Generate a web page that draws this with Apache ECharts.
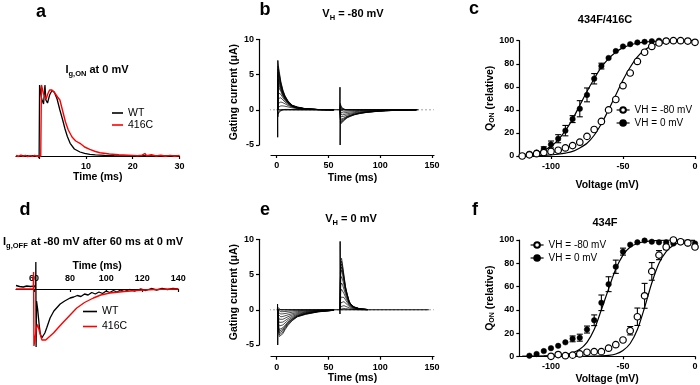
<!DOCTYPE html>
<html><head><meta charset="utf-8">
<script src="https://cdn.jsdelivr.net/npm/echarts@6/dist/echarts.min.js"></script>
<style>html,body{margin:0;padding:0;background:#fff}#c{width:700px;height:385px}</style>
</head><body><div id="c"></div><script>
const FF = 'Liberation Sans, Arial, sans-serif';
// ---------- Panel a : Ig,ON at 0 mV ----------
const aWtT = [-5,-4.4,-3.8,-3.2,-2.6,-2,-1.4,-0.8,-0.3,-0.05,0.05,0.5,0.9,1.2,1.4,1.75,2.2,2.7,3.2,3.8,4.4,5.0,5.5,6.0,6.6,7.5,8.7,9.7,10.8,12,14,16,19,22,25,28,30];
const aWtV = [0.4,-0.3,0.5,-0.2,0.3,-0.4,0.4,-0.2,0.2,-2,71,57,52,71,56,53,61,65.5,64,57,46,36,27,19.5,12.7,7,4,2.6,1.7,1.2,0.7,0.4,0.2,0.3,0,0.2,0];
const aMutT = [-5,-4.5,-4,-3.5,-3,-2.5,-2,-1.5,-1,-0.5,0.3,0.45,0.9,1.45,1.8,2.2,2.7,3.3,3.9,4.4,5.0,5.6,6.2,7.0,7.8,8.7,9.7,10.8,12,13,15,17,20,21,22,22.6,23,24,25,26,27,28,29,30];
const aMutV = [0.5,-0.5,0.8,-0.3,0.6,-0.6,0.4,-0.4,0.6,-0.3,0,71,62,57,62,66,66,63,59,56,45,34,26,19,15,12.7,9,6.7,4.5,3.3,2,1.2,0.6,0.3,0.8,2.5,0.2,1.2,0,0.8,-0.2,0.6,-0.3,0.5];
const aTicks = [0,10,20,30];
const aLabels = [10,20,30];
// ---------- Panel d : Ig,OFF ----------
const dWtT = [50,51,52,53,54,55,56,57,58,59,60.5,60.9,61.0,61.15,61.4,62,62.8,63.5,64.3,65,66,67,68.9,71,74.5,77,80,82,84,86,88,90,92,94,96,98,100,102,104,106,108,110,113,116,119,122,125,128,131,134,137,140];
const dWtV = [3.5,5,2.5,4.5,2,4,3,5,2.5,4,3,0,27,-58,-12,-20,-35,-45,-49,-48,-44,-39,-29,-22,-15,-12,-9,-8,-6.5,-7.5,-5,-6,-3.5,-5,-3,-4.5,-2,-3.5,-1.5,-3,-1,-2.5,-0.5,-2,0,-1.5,0.5,-1,0.5,-0.5,0.5,0];
const dMutT = [50,59.6,59.75,59.95,60.4,61.2,62.0,62.6,63.4,64.4,65.2,66.5,68,70.8,73.5,76.3,80,83.7,88,92.9,97,102,110,120.6,130,140];
const dMutV = [0,0,17,-57,-52,-40,-35.5,-37,-45,-51,-52,-51,-48.5,-44,-38.5,-33,-26,-19,-13.5,-9,-6,-4,-2.5,-1,-0.4,0];
const dTicks = [60,80,100,120,140];
// ---------- Panel b : VH = -80 mV ----------
const bOnT = [1.0,1.25,1.5,2.5,4,6,8,11,15,20,28,40,55];
const bOn = [
 [0,6.6,6.6,5.4,4.0,2.8,2.0,1.25,0.65,0.4,0.15,0.04,0],
 [0,6.2,6.25,5.15,3.85,2.7,1.95,1.2,0.62,0.37,0.14,0.04,0],
 [0,5.8,5.9,4.9,3.7,2.6,1.9,1.15,0.6,0.35,0.13,0.03,0],
 [0,5.3,5.5,4.65,3.55,2.5,1.82,1.12,0.59,0.33,0.12,0.03,0],
 [0,4.9,5.1,4.4,3.4,2.4,1.75,1.1,0.58,0.32,0.12,0.03,0],
 [0,4.4,4.65,4.1,3.2,2.3,1.68,1.05,0.56,0.31,0.11,0.03,0],
 [0,3.9,4.2,3.8,3.0,2.2,1.6,1.0,0.55,0.3,0.11,0.03,0],
 [0,3.3,3.75,3.45,2.8,2.07,1.52,0.96,0.52,0.29,0.1,0.03,0],
 [0,2.8,3.3,3.1,2.6,1.95,1.45,0.92,0.5,0.28,0.1,0.03,0],
 [0,1.9,2.4,2.5,2.2,1.7,1.3,0.85,0.47,0.26,0.1,0.03,0],
 [0,1.1,1.6,1.8,1.7,1.4,1.1,0.75,0.43,0.24,0.09,0.03,0],
 [0,0.5,0.9,1.1,1.1,1.0,0.85,0.6,0.37,0.21,0.08,0.02,0],
 [0,0.1,0.35,0.5,0.55,0.55,0.5,0.4,0.27,0.16,0.06,0.02,0],
 [0,-1.0,-0.6,-0.3,-0.1,0,0.05,0.05,0.03,0.02,0.01,0,0],
 [0,-0.6,-0.35,-0.15,-0.05,0,0,0,0,0,0,0,0]
];
const bOffT = [61.2,61.5,62,63,64.5,66,68,71,75,80,87,95,105,118,135];
const bOff = [
 [0,-1.6,-2.0,-1.9,-1.6,-1.35,-1.15,-0.95,-0.72,-0.55,-0.38,-0.26,-0.15,-0.07,0],
 [0,-1.45,-1.85,-1.78,-1.52,-1.3,-1.1,-0.92,-0.7,-0.52,-0.36,-0.25,-0.14,-0.06,0],
 [0,-1.3,-1.7,-1.65,-1.45,-1.25,-1.05,-0.88,-0.67,-0.5,-0.35,-0.24,-0.14,-0.06,0],
 [0,-1.15,-1.52,-1.5,-1.32,-1.15,-0.98,-0.82,-0.63,-0.47,-0.33,-0.23,-0.13,-0.06,0],
 [0,-1.0,-1.35,-1.35,-1.2,-1.05,-0.92,-0.77,-0.6,-0.45,-0.32,-0.22,-0.13,-0.06,0],
 [0,-0.7,-1.0,-1.05,-0.95,-0.85,-0.75,-0.64,-0.5,-0.38,-0.27,-0.19,-0.11,-0.05,0],
 [0,-0.4,-0.65,-0.75,-0.7,-0.64,-0.57,-0.5,-0.4,-0.3,-0.22,-0.15,-0.09,-0.04,0],
 [0,-0.15,-0.35,-0.45,-0.45,-0.42,-0.38,-0.33,-0.27,-0.21,-0.15,-0.1,-0.06,-0.03,0],
 [0,0.1,-0.05,-0.15,-0.2,-0.2,-0.19,-0.17,-0.14,-0.11,-0.08,-0.05,-0.03,-0.01,0],
 [0,0.4,0.25,0.1,0.02,0,0,0,0,0,0,0,0,0,0],
 [0,0.7,0.45,0.2,0.08,0.03,0,0,0,0,0,0,0,0,0],
 [0,0.9,0.6,0.3,0.1,0.04,0,0,0,0,0,0,0,0,0]
];
const bSpikeOnT = [0.8,0.95,1.1,1.25], bSpikeOnV = [0,-3.9,7.0,6.6];
const bSpikeOffT = [61.0,61.15,61.3,61.5], bSpikeOffV = [0,3.2,-5.0,-1.6];
const bBaseT = [0,137], bGreyT = [-19,152];
// ---------- Panel e : VH = 0 mV ----------
const eOnT = [1.0,1.25,1.75,2.5,4,6,8,11,15,20,28,40,55];
const eOn = [
 [0,-1.5,-3.0,-3.8,-3.9,-3.4,-2.85,-2.2,-1.55,-1.0,-0.65,-0.3,-0.08],
 [0,-1.4,-2.8,-3.55,-3.65,-3.18,-2.68,-2.08,-1.48,-0.97,-0.62,-0.29,-0.08],
 [0,-1.3,-2.6,-3.3,-3.4,-2.95,-2.5,-1.95,-1.4,-0.93,-0.58,-0.27,-0.08],
 [0,-1.2,-2.4,-3.05,-3.15,-2.75,-2.35,-1.83,-1.32,-0.89,-0.55,-0.25,-0.07],
 [0,-1.1,-2.2,-2.8,-2.9,-2.55,-2.2,-1.72,-1.25,-0.85,-0.52,-0.24,-0.07],
 [0,-0.9,-1.8,-2.3,-2.4,-2.15,-1.88,-1.5,-1.1,-0.76,-0.46,-0.21,-0.07],
 [0,-0.7,-1.4,-1.8,-1.9,-1.75,-1.55,-1.25,-0.93,-0.66,-0.4,-0.19,-0.06],
 [0,-0.5,-1.0,-1.35,-1.45,-1.35,-1.2,-0.98,-0.74,-0.54,-0.33,-0.16,-0.05],
 [0,-0.35,-0.7,-0.95,-1.0,-0.95,-0.86,-0.72,-0.55,-0.4,-0.25,-0.12,-0.04],
 [0,-0.2,-0.4,-0.55,-0.6,-0.58,-0.53,-0.45,-0.35,-0.26,-0.16,-0.08,-0.03],
 [0,-0.1,-0.2,-0.25,-0.28,-0.27,-0.25,-0.21,-0.16,-0.12,-0.08,-0.04,-0.01],
 [0,0.3,0.1,0.03,0,0,0,0,0,0,0,0,0]
];
const eOffT = [61.3,61.5,62,62.7,63.7,65,66.5,68,70,72,75,80,88];
const eOff = [
 [0,5.0,7.0,7.3,6.3,4.9,3.3,2.3,1.2,0.7,0.4,0.15,0.03],
 [0,4.7,6.6,6.9,6.0,4.7,3.2,2.25,1.18,0.69,0.39,0.14,0.03],
 [0,4.4,6.2,6.5,5.7,4.5,3.1,2.2,1.15,0.68,0.38,0.14,0.03],
 [0,4.05,5.75,6.05,5.35,4.25,2.98,2.12,1.12,0.66,0.37,0.13,0.03],
 [0,3.7,5.3,5.6,5.0,4.0,2.85,2.05,1.1,0.65,0.36,0.13,0.03],
 [0,3.0,4.4,4.7,4.25,3.5,2.55,1.85,1.0,0.6,0.34,0.12,0.03],
 [0,2.3,3.5,3.8,3.5,2.9,2.2,1.6,0.9,0.55,0.3,0.11,0.02],
 [0,1.6,2.6,2.9,2.75,2.3,1.8,1.35,0.78,0.48,0.27,0.1,0.02],
 [0,1.0,1.8,2.05,2.0,1.75,1.4,1.07,0.65,0.4,0.23,0.08,0.02],
 [0,0.5,1.0,1.25,1.25,1.15,0.95,0.75,0.48,0.3,0.17,0.06,0.01],
 [0,0.2,0.45,0.6,0.62,0.58,0.5,0.4,0.27,0.17,0.1,0.04,0.01],
 [0,0.05,0.12,0.18,0.2,0.2,0.17,0.14,0.1,0.06,0.04,0.01,0]
];
const eSpikeOnT = [0.7,0.85,1.0,1.15], eSpikeOnV = [0,0.8,-5.0,-1.5];
const eSpikeOffT = [61.0,61.15,61.3,61.5], eSpikeOffV = [0,-0.6,9.7,5.0];
const eBaseT = [0,147], eGreyT = [-19,152];
const gateTicks = [0,50,100,150];
// ---------- Panel c : 434F/416C ----------
const cVolt = [-120,-115,-110,-105,-100,-95,-90,-85,-80,-75,-70,-65,-60,-55,-50,-45,-40,-35,-30,-25,-20,-15,-10,-5,0];
const cOpen = [0,1,2,3,4,5,7,9,12,17,23,30,40,49,61,72,82,90,95,98,99.7,100,100,99.7,98.6];
const cFillVolt = [-120,-115,-110,-105,-100,-95,-90,-85,-80,-75,-70,-65,-60,-55,-50,-45,-40,-35,-30,-25,-20];
const cFill = [0,2,3,6,10,15,22,32,41,53,67,78,85,91,95,97,98.5,99,99.5,100,100];
const cFillErrVolt = [-105,-100,-95,-90,-85,-80,-75,-70,-65];
const cFillErr = [2,3,3.5,4.5,3,7,6,4.5,2.5];
const cFitFill = [1,1.8,3,5,8.5,14,22,32,44,56,67,77,84.5,90,94,96.3,97.8,98.7,99.3,99.6,99.8,99.9,100,100,100];
const cFitOpen = [0.1,0.2,0.3,0.5,0.9,1.5,2.5,4,7,11,18,28,40,53,66,77,86,92,95.5,97.5,98.6,99.2,99.6,99.8,99.9];
// ---------- Panel f : 434F ----------
const fOpenVolt = [-100,-95,-90,-85,-80,-75,-70,-65,-60,-55,-50,-45,-40,-35,-30,-25,-20,-15,-10,-5,0];
const fOpen = [0,1.5,0.5,1,2,3.5,4,4,7,10,14,22,34,52,73,87,94,100,98.5,97.5,94];
const fFillVolt = [-115,-110,-105,-100,-95,-90,-85,-80,-75,-70,-65,-60,-55,-50,-45,-40,-35,-30,-25,-20,-15,-10,-5,0];
const fFill = [0.5,2,4.5,7,9,12,15,16,23,31,46,62,77,90,96,98,99.5,98.5,98,98,97,98,97,97];
const fFillErrVolt = [-85,-80,-75,-70,-65,-60,-55,-50];
const fFillErr = [2.5,3,3,4.6,6.7,6.4,5.7,3];
const fOpenErrVolt = [-45,-40,-35,-30,-25,-20,-10];
const fOpenErr = [3.6,7.5,10.7,7.6,3.9,2.3,1.5];
const fFitFill = [0,0.1,0.2,0.3,0.5,0.9,1.6,3,6,12,23,40,58,75,87,94,97,98.6,99.3,99.7,99.9,100,100,100,100];
const fFitOpen = [0,0,0,0,0,0,0,0,0,0,0.1,0.3,0.8,2,5,11,23,42,63,80,90,95.5,98,99,99.5];
const vTicks = [-100,-50,0];

// ---------- build ----------
const pairs = (t, v) => t.map((x, i) => [x, v[i]]);
const errRows = (vs, means, meanV, errs) => vs.map((v, i) => { const m = means[meanV.indexOf(v)]; return [v, m - errs[i], m + errs[i]]; });

const LS = { color: '#000', width: 1.2 };
const labelStyle = (m, extra) => Object.assign({ color: '#000', fontSize: 9, fontWeight: 'bold', fontFamily: FF, margin: m }, extra || {});
const nameStyle = { color: '#000', fontSize: 10.5, fontWeight: 'bold', fontFamily: FF };
const richName = {
  q: { fontSize: 10.5, fontWeight: 'bold', fontFamily: FF, color: '#000' },
  s: { fontSize: 7, fontWeight: 'bold', fontFamily: FF, color: '#000', padding: [4, 0, 0, 0] }
};
const xAx = (gi, min, max, ticks, labels, name, gap, extra) => Object.assign({
  gridIndex: gi, type: 'value', min, max, position: 'bottom',
  axisLine: { onZero: false, lineStyle: LS },
  axisTick: { length: 3, customValues: ticks, lineStyle: LS },
  axisLabel: labelStyle(6, { customValues: labels }),
  splitLine: { show: false }, name, nameLocation: 'middle', nameGap: gap, nameTextStyle: nameStyle
}, extra || {});
const yAx = (gi, min, max, interval, name, gap, extra) => Object.assign({
  gridIndex: gi, type: 'value', min, max, interval,
  axisLine: { onZero: false, lineStyle: LS },
  axisTick: { length: 3, lineStyle: LS },
  axisLabel: labelStyle(5),
  splitLine: { show: false }, name, nameLocation: 'middle', nameGap: gap, nameTextStyle: nameStyle
}, extra || {});

const grids = [
  { left: 16, top: 85, width: 163.4, height: 71 },
  { left: 271, top: 39.3, width: 163, height: 105.7 },
  { left: 519.3, top: 40.7, width: 175.7, height: 115.3 },
  { left: 16, top: 289, width: 162.3, height: 60 },
  { left: 271, top: 239.3, width: 163, height: 105.7 },
  { left: 519.3, top: 240, width: 175.7, height: 116.3 }
].map(g => Object.assign({ containLabel: false, outerBoundsMode: 'none' }, g));

const xAxes = [
  xAx(0, -5, 30, aTicks, aLabels, 'Time (ms)', 14),
  xAx(1, -5.5, 152, gateTicks, gateTicks, 'Time (ms)', 18, { offset: 10 }),
  xAx(2, -122, 0, vTicks, vTicks, 'Voltage (mV)', 24),
  xAx(3, 50, 140, dTicks, dTicks, 'Time (ms)', 17, { position: 'top',
      axisTick: { length: 3, inside: true, customValues: dTicks, lineStyle: LS } }),
  xAx(4, -5.5, 152, gateTicks, gateTicks, 'Time (ms)', 16, { offset: 11.7 }),
  xAx(5, -122, 0, vTicks, vTicks, 'Voltage (mV)', 17)
];
const yAxes = [
  { gridIndex: 0, type: 'value', min: 0, max: 71, show: false },
  yAx(1, -5, 10, 5, 'Gating current (μA)', 14, { offset: 12 }),
  yAx(2, 0, 100, 20, '{q|Q}{s|ON}{q| (relative)}', 21, { nameTextStyle: Object.assign({ rich: richName }, nameStyle) }),
  { gridIndex: 3, type: 'value', min: -60, max: 0, show: false },
  yAx(4, -5, 10, 5, 'Gating current (μA)', 14, { offset: 12 }),
  yAx(5, 0, 100, 20, '{q|Q}{s|ON}{q| (relative)}', 21, { nameTextStyle: Object.assign({ rich: richName }, nameStyle) })
];

const series = [];
const lineS = (gi, name, data, color, width, extra) => Object.assign({
  type: 'line', name, xAxisIndex: gi, yAxisIndex: gi, data, symbol: 'none', silent: true,
  lineStyle: { color, width }, itemStyle: { color }, animation: false, z: 3
}, extra || {});

// a
series.push(lineS(0, 'WT', pairs(aWtT, aWtV), '#000', 1.3, { clip: false }));
series.push(lineS(0, '416C', pairs(aMutT, aMutV), '#ff0000', 1.4, { clip: false }));
// d
series.push(lineS(3, 'WT', pairs(dWtT, dWtV), '#000', 1.3, { clip: false }));
series.push(lineS(3, '416C', pairs(dMutT, dMutV), '#ff0000', 1.4, { clip: false }));
// b & e families
function family(gi, greyT, baseT, onT, on, offT, off, spikes) {
  series.push(lineS(gi, 'grey', pairs(greyT, greyT.map(() => 0)), '#b0b0b0', 1.2, { clip: false, z: 1, lineStyle: { color: '#b0b0b0', width: 1.2, type: [2, 2] } }));
  series.push(lineS(gi, 'base', pairs(baseT, baseT.map(() => 0)), '#000', 1, { z: 2 }));
  on.forEach(tr => series.push(lineS(gi, 'tr', pairs(onT, tr), '#000', 0.7)));
  off.forEach(tr => series.push(lineS(gi, 'tr', pairs(offT, tr), '#000', 0.7)));
  spikes.forEach(s => series.push(lineS(gi, 'sp', pairs(s[0], s[1]), '#000', 1)));
}
family(1, bGreyT, bBaseT, bOnT, bOn, bOffT, bOff, [[bSpikeOnT, bSpikeOnV], [bSpikeOffT, bSpikeOffV]]);
family(4, eGreyT, eBaseT, eOnT, eOn, eOffT, eOff, [[eSpikeOnT, eSpikeOnV], [eSpikeOffT, eSpikeOffV]]);

// c & f
const errSeries = (gi, rows) => ({
  type: 'custom', xAxisIndex: gi, yAxisIndex: gi, data: rows, silent: true, animation: false, z: 3,
  renderItem: (params, api) => {
    const x = api.value(0), lo = api.value(1), hi = api.value(2);
    const p1 = api.coord([x, lo]), p2 = api.coord([x, hi]);
    const st = { stroke: '#000', lineWidth: 1.1 };
    return { type: 'group', children: [
      { type: 'line', shape: { x1: p1[0], y1: p1[1], x2: p2[0], y2: p2[1] }, style: st },
      { type: 'line', shape: { x1: p1[0] - 3, y1: p1[1], x2: p1[0] + 3, y2: p1[1] }, style: st },
      { type: 'line', shape: { x1: p2[0] - 3, y1: p2[1], x2: p2[0] + 3, y2: p2[1] }, style: st }
    ] };
  }
});
const ptS = (gi, name, data, open) => ({
  type: 'line', name, xAxisIndex: gi, yAxisIndex: gi, data, symbol: 'circle', symbolSize: open ? 6.5 : 5.5,
  showSymbol: true, showAllSymbol: true, silent: true, animation: false, z: 5,
  lineStyle: { width: 1, color: '#000', opacity: 0 },
  itemStyle: open ? { color: '#fff', borderColor: '#000', borderWidth: 1.2 } : { color: '#000', borderColor: '#000', borderWidth: 0.5 }
});
// c
series.push(lineS(2, 'fitO', pairs(cVolt, cFitOpen), '#000', 1.2, { smooth: 0.3, z: 2 }));
series.push(lineS(2, 'fitF', pairs(cVolt, cFitFill), '#000', 1.2, { smooth: 0.3, z: 2 }));
series.push(errSeries(2, errRows(cFillErrVolt, cFill, cFillVolt, cFillErr)));
series.push(ptS(2, 'VH = 0 mV', pairs(cFillVolt, cFill), false));
series.push(ptS(2, 'VH = -80 mV', pairs(cVolt, cOpen), true));
// f
series.push(lineS(5, 'fitO', pairs(cVolt, fFitOpen), '#000', 1.2, { smooth: 0.3, z: 2 }));
series.push(lineS(5, 'fitF', pairs(cVolt, fFitFill), '#000', 1.2, { smooth: 0.3, z: 2 }));
series.push(errSeries(5, errRows(fFillErrVolt, fFill, fFillVolt, fFillErr)));
series.push(errSeries(5, errRows(fOpenErrVolt, fOpen, fOpenVolt, fOpenErr)));
series.push(ptS(5, 'VH = 0 mV', pairs(fFillVolt, fFill), false));
series.push(ptS(5, 'VH = -80 mV', pairs(fOpenVolt, fOpen), true));

const legText = { fontSize: 10.5, fontFamily: FF, color: '#000', lineHeight: 12 };
const legends = [
  { left: 112, top: 107, orient: 'vertical', data: ['WT', '416C'], icon: 'rect', itemWidth: 11, itemHeight: 1.6, itemGap: 0,
    textStyle: legText, selectedMode: false, padding: 0 },
  { left: 83, top: 305.5, orient: 'vertical', data: ['WT', '416C'], icon: 'rect', itemWidth: 14, itemHeight: 1.6, itemGap: 3,
    textStyle: legText, selectedMode: false, padding: 0 },
  { left: 616, top: 104, orient: 'vertical', data: ['VH = -80 mV', 'VH = 0 mV'], itemWidth: 13, itemHeight: 7, itemGap: 1,
    textStyle: { fontSize: 10, fontFamily: FF, color: '#000', lineHeight: 12 }, selectedMode: false, lineStyle: { width: 1.2, color: '#000', opacity: 1 }, padding: 0 },
  { left: 530, top: 239, orient: 'vertical', data: ['VH = -80 mV', 'VH = 0 mV'], itemWidth: 13, itemHeight: 7, itemGap: 1,
    textStyle: { fontSize: 10, fontFamily: FF, color: '#000', lineHeight: 12 }, selectedMode: false, lineStyle: { width: 1.2, color: '#000', opacity: 1 }, padding: 0 }
];

const tRich = {
  n: { fontSize: 11, fontWeight: 'bold', fontFamily: FF, fill: '#000', lineHeight: 13, verticalAlign: 'top' },
  s: { fontSize: 7.5, fontWeight: 'bold', fontFamily: FF, fill: '#000', lineHeight: 8, padding: [6, 0, 0, 0] }
};
const txt = (x, y, text, size) => ({ type: 'text', x, y, silent: true,
  style: { text, fontSize: size, fontWeight: 'bold', fontFamily: FF, fill: '#000', align: 'center', verticalAlign: 'middle' } });
const rtxt = (x, y, text) => ({ type: 'text', x, y, silent: true,
  style: { text, rich: tRich, align: 'center', verticalAlign: 'middle', fontSize: 11, fontWeight: 'bold', fontFamily: FF, fill: '#000' } });
const graphics = [
  txt(41, 12, 'a', 18), txt(265, 10, 'b', 18), txt(474, 9, 'c', 18),
  txt(25, 210, 'd', 18), txt(265, 210, 'e', 18), txt(475, 210, 'f', 18),
  rtxt(97, 71, '{n|I}{s|g,ON}{n| at 0 mV}'),
  rtxt(353, 15, '{n|V}{s|H}{n| = -80 mV}'),
  txt(605, 20, '434F/416C', 11),
  rtxt(93, 243, '{n|I}{s|g,OFF}{n| at -80 mV after 60 ms at 0 mV}'),
  rtxt(351, 220, '{n|V}{s|H}{n| = 0 mV}'),
  txt(605, 223, '434F', 11)
];

const chart = echarts.init(document.getElementById('c'), null, { renderer: 'canvas' });
chart.setOption({
  animation: false, backgroundColor: '#fff',
  grid: grids, xAxis: xAxes, yAxis: yAxes, series, legend: legends, graphic: graphics
});
</script></body></html>
